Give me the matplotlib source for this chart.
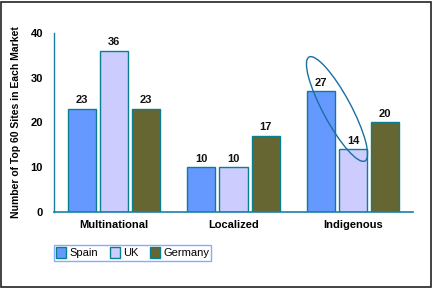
import numpy as np
import matplotlib
matplotlib.use("Agg")
from matplotlib import pyplot as plt
from matplotlib.patches import Ellipse, Rectangle
from matplotlib.transforms import IdentityTransform

plt.rcParams['font.family'] = ['Liberation Sans', 'DejaVu Sans']

categories = ["Multinational", "Localized", "Indigenous"]
countries = ["Spain", "UK", "Germany"]
spain = [23, 10, 27]
uk = [36, 10, 14]
germany = [23, 17, 20]
yticks = [0, 10, 20, 30, 40]

colors = ["#6699ff", "#ccccff", "#666633"]
edge = "#0a7f8f"

fig = plt.figure(figsize=(4.33, 2.88), dpi=100)
ax = fig.add_axes([54 / 433, 76 / 288, 359 / 433, 179 / 288])

x = np.arange(len(categories))
w = 0.234
step = 0.268
series = [spain, uk, germany]
for i, vals in enumerate(series):
    pos = x + (i - 1) * step
    ax.bar(pos, vals, w, color=colors[i], edgecolor=edge, linewidth=1,
           label=countries[i], zorder=2)
    for p, v in zip(pos, vals):
        ax.text(p, v + 0.8, str(v), ha="center", va="bottom", fontsize=8,
                fontweight="bold", color="#111111")

ax.set_xlim(-0.5, 2.5)
ax.set_ylim(0, 40)
ax.set_yticks(yticks)
ax.set_yticklabels([str(t) for t in yticks], fontsize=8, fontweight="bold")
ax.set_xticks(x)
ax.set_xticklabels(categories, fontsize=8, fontweight="bold")
ax.tick_params(length=0, pad=8)
ax.tick_params(axis="x", pad=6)
for s in ["top", "right"]:
    ax.spines[s].set_visible(False)
ax.spines["left"].set_color("#1a7fa8")
ax.spines["bottom"].set_color("#1a7fa8")
ax.spines["left"].set_linewidth(1)
ax.spines["bottom"].set_linewidth(1.2)
ax.set_ylabel("Number of Top 60 Sites in Each Market", fontsize=7.5,
              fontweight="bold", labelpad=7)

leg = ax.legend(loc="upper left", bbox_to_anchor=(0.0, -0.185), ncol=3,
                fontsize=8, frameon=True, fancybox=False, handlelength=0.9,
                handleheight=1.1, handletextpad=0.25, columnspacing=1.1,
                borderpad=0.2, borderaxespad=0)
leg.get_frame().set_edgecolor("#6699ff")
leg.get_frame().set_linewidth(1)

# highlight ellipse (pixel coords, y from bottom)
ell = Ellipse((337, 179), 118, 28, angle=-61.7, fill=False,
              edgecolor="#1a6fa0", linewidth=1, transform=IdentityTransform(),
              zorder=5)
fig.add_artist(ell)

fig.add_artist(Rectangle((0.002, 0.004), 0.994, 0.99, transform=fig.transFigure,
                         fill=False, edgecolor="#222222", linewidth=1.2))

fig.savefig("out.png", dpi=100)
